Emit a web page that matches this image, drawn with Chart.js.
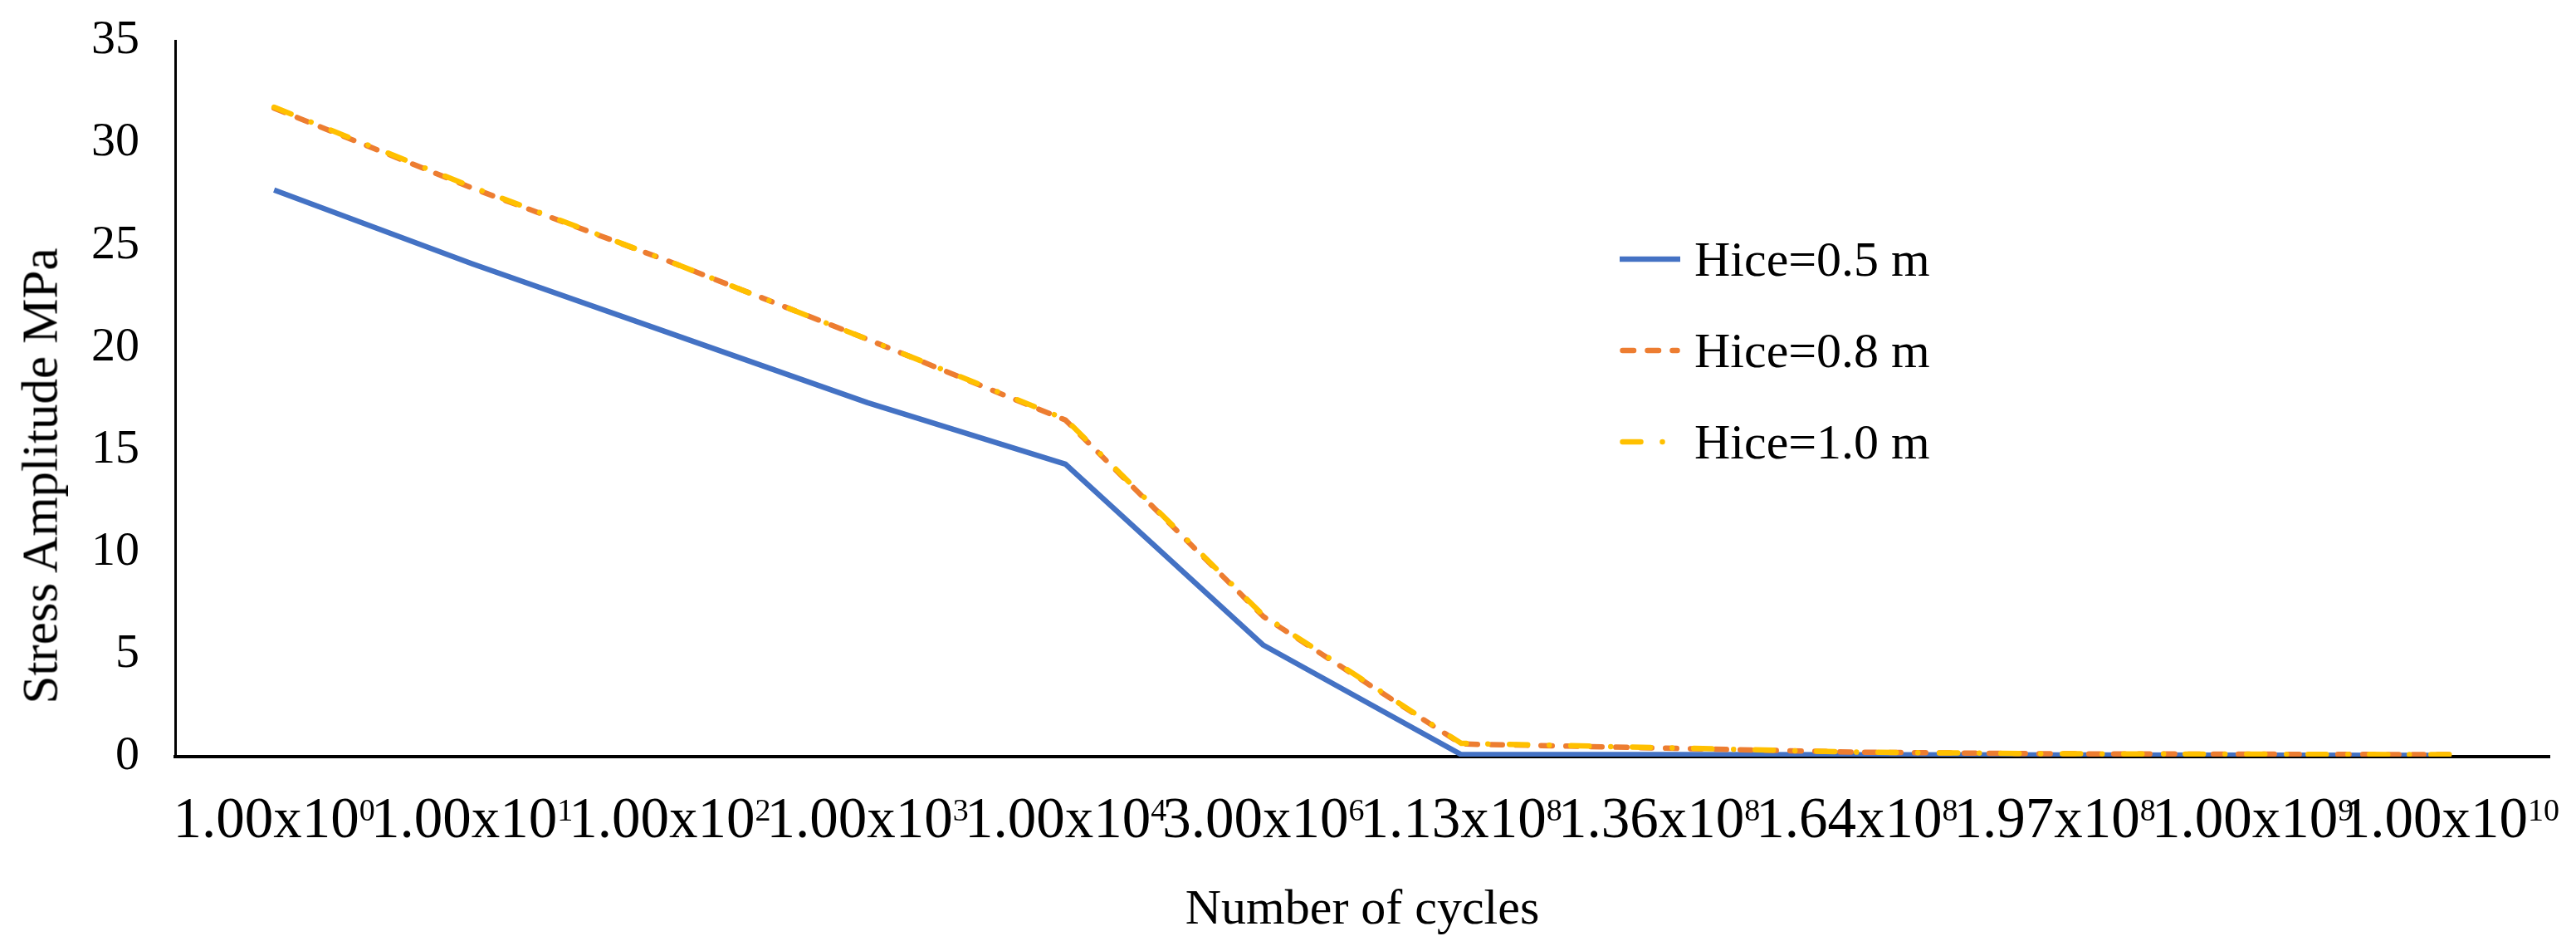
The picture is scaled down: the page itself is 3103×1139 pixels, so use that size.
<!DOCTYPE html>
<html>
<head>
<meta charset="utf-8">
<script src="https://cdn.jsdelivr.net/npm/chart.js@4.4.1/dist/chart.umd.min.js"></script>
<style>
html,body{margin:0;padding:0;background:#fff;}
#wrap{position:relative;width:3103px;height:1139px;overflow:hidden;}
#c{display:block;}
#ytitle{position:absolute;left:48px;top:573px;transform:translate(-50%,-50%) rotate(-90deg);font-family:'Liberation Serif','Times New Roman',serif;font-size:61px;line-height:1;white-space:nowrap;color:#000;}
.row{position:absolute;left:1951px;height:70px;display:flex;align-items:center;transform:translateY(-50%);white-space:nowrap;font-family:'Liberation Serif','Times New Roman',serif;font-size:60px;line-height:1;color:#000;}
.row svg{margin-right:17px;}
</style>
</head>
<body>
<div id="wrap">
  <canvas id="c" width="3103" height="1139" style="width:3103px;height:1139px"></canvas>
  <div id="ytitle">Stress Amplitude MPa</div>
  <div id="legend"></div>
</div>
<script>
const categories = ['1.00x10⁰','1.00x10¹','1.00x10²','1.00x10³','1.00x10⁴','3.00x10⁶','1.13x10⁸','1.36x10⁸','1.64x10⁸','1.97x10⁸','1.00x10⁹','1.00x10¹⁰'];
const hice05 = [27.7, 24.1, 20.7, 17.3, 14.3, 5.45, 0.1, 0.1, 0.09, 0.08, 0.07, 0.06];
const hice08 = [31.7, 27.8, 24.2, 20.4, 16.45, 6.85, 0.62, 0.42, 0.22, 0.14, 0.12, 0.1];
const hice10 = [31.75, 27.85, 24.2, 20.4, 16.5, 6.9, 0.65, 0.44, 0.22, 0.14, 0.12, 0.1];
const seriesNames = ['Hice=0.5 m', 'Hice=0.8 m', 'Hice=1.0 m'];
const yTicks = [0, 5, 10, 15, 20, 25, 30, 35];

const colors = ['#4472C4', '#ED7D31', '#FFC000'];
const dashes = [[], [13.5, 16.5], [22, 26, 0.01, 26]];
const FONT = "'Liberation Serif','Times New Roman',serif";
const supMap = {'⁰':'0','¹':'1','²':'2','³':'3','⁴':'4','⁵':'5','⁶':'6','⁷':'7','⁸':'8','⁹':'9'};

const canvas = document.getElementById('c');

const seriesData = [hice05, hice08, hice10];
const datasets = seriesData.map((d, i) => ({
  label: seriesNames[i],
  data: d,
  borderColor: colors[i],
  backgroundColor: colors[i],
  borderWidth: 6.5,
  borderDash: dashes[i],
  borderCapStyle: i === 0 ? 'butt' : 'round',
  borderJoinStyle: 'round',
  pointRadius: 0,
  pointHoverRadius: 0,
  tension: 0,
  fill: false,
  order: 2 - i
}));

// Draws the category tick labels of the x scale with real superscript exponents
const xLabelPlugin = {
  id: 'xSupLabels',
  afterDraw(chart) {
    const sx = chart.scales.x;
    const ctx = chart.ctx;
    ctx.save();
    ctx.fillStyle = '#000';
    ctx.textBaseline = 'alphabetic';
    ctx.textAlign = 'left';
    const baseY = sx.top + 97;
    sx.ticks.forEach((t, i) => {
      const lab = sx.getLabelForValue(t.value);
      const m = lab.match(/^(.*x10)(.*)$/);
      const base = m ? m[1] : lab;
      const sup = m ? [...m[2]].map(c => supMap[c] || c).join('') : '';
      ctx.font = `69px ${FONT}`;
      const wb = ctx.measureText(base).width;
      ctx.font = `38px ${FONT}`;
      const ws = ctx.measureText(sup).width;
      const x0 = sx.getPixelForTick(i) - (wb + ws) / 2;
      ctx.font = `69px ${FONT}`;
      ctx.fillText(base, x0, baseY);
      ctx.font = `38px ${FONT}`;
      ctx.fillText(sup, x0 + wb, baseY - 20);
    });
    ctx.restore();
  }
};

new Chart(canvas, {
  type: 'line',
  data: { labels: categories, datasets },
  plugins: [xLabelPlugin],
  options: {
    responsive: false,
    animation: false,
    devicePixelRatio: 1,
    layout: { padding: { left: 0, right: 32, top: 49, bottom: 0 } },
    plugins: { legend: { display: false }, tooltip: { enabled: false } },
    scales: {
      x: {
        type: 'category',
        offset: true,
        grid: { display: false, drawTicks: false },
        border: { display: true, color: '#000', width: 4 },
        ticks: { display: false, autoSkip: false, maxRotation: 0, minRotation: 0 },
        title: {
          display: true, text: 'Number of cycles', color: '#000',
          font: { family: FONT, size: 60 }, padding: { top: 0, bottom: 7 }
        },
        afterFit: (s) => { s.height = 228; s.paddingLeft = 0; s.paddingRight = 0; }
      },
      y: {
        min: 0, max: 35,
        afterBuildTicks: (s) => { s.ticks = yTicks.map(v => ({ value: v })); },
        grid: { display: false, drawTicks: false },
        border: { display: true, color: '#000', width: 3 },
        ticks: { color: '#000', padding: 43, font: { family: FONT, size: 58 } },
        afterFit: (s) => { s.width = 211; s.paddingTop = 0; s.paddingBottom = 0; }
      }
    }
  }
});

// HTML legend
const legend = document.getElementById('legend');
const rowsY = [312, 422, 532];
seriesNames.forEach((name, i) => {
  const row = document.createElement('div');
  row.className = 'row';
  row.style.top = rowsY[i] + 'px';
  const da = dashes[i].length ? `stroke-dasharray="${dashes[i].join(' ')}"` : '';
  const cap = i === 0 ? 'butt' : 'round';
  row.innerHTML = `<svg width="73" height="20" viewBox="0 0 73 20"><line x1="${i===0?0:3.5}" y1="10" x2="${i===0?73:69.5}" y2="10" stroke="${colors[i]}" stroke-width="6.5" stroke-linecap="${cap}" ${da}/></svg><span>${name}</span>`;
  legend.appendChild(row);
});
</script>
</body>
</html>
